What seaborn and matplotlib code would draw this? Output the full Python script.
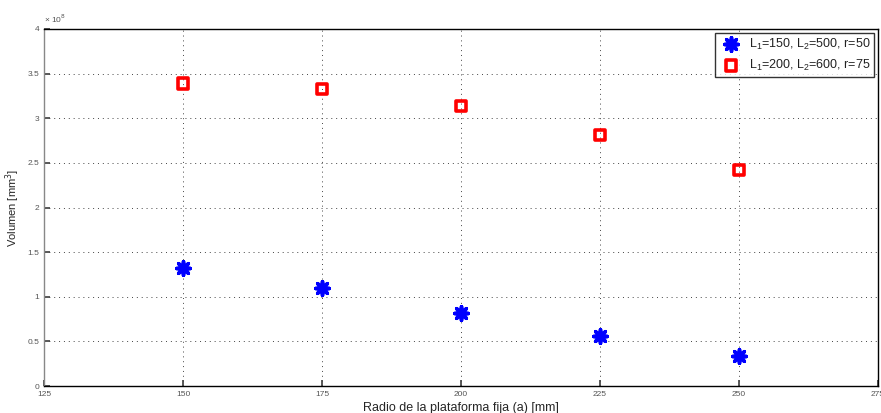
import matplotlib
matplotlib.use("Agg")

import matplotlib.pyplot as plt
import pandas as pd
import seaborn as sns
from matplotlib.ticker import FuncFormatter

radio = [150, 175, 200, 225, 250]
vol_serie1 = [1.32e8, 1.10e8, 0.82e8, 0.56e8, 0.34e8]
vol_serie2 = [3.39e8, 3.33e8, 3.14e8, 2.81e8, 2.42e8]
etiquetas = ["$\\mathregular{L_1}$=150, $\\mathregular{L_2}$=500, r=50",
             "$\\mathregular{L_1}$=200, $\\mathregular{L_2}$=600, r=75"]
x_ticks = [125, 150, 175, 200, 225, 250, 275]
y_ticks = [0, 0.5e8, 1e8, 1.5e8, 2e8, 2.5e8, 3e8, 3.5e8, 4e8]

df = pd.DataFrame({
    "radio": radio * 2,
    "volumen": vol_serie1 + vol_serie2,
    "serie": [etiquetas[0]] * 5 + [etiquetas[1]] * 5,
})

sns.set_theme(style="white")
plt.rcParams["font.family"] = ["Liberation Sans", "DejaVu Sans"]

fig = plt.figure(figsize=(8.81, 4.13), dpi=100)
ax = fig.add_axes([0.05, 0.065, 0.9466, 0.865])

s1 = df[df["serie"] == etiquetas[0]]
s2 = df[df["serie"] == etiquetas[1]]
sns.scatterplot(data=s1, x="radio", y="volumen", ax=ax, marker=(8, 2, 0), s=95,
                color="#0000ff", linewidth=2.6, edgecolor="#0000ff", label=etiquetas[0])
sns.scatterplot(data=s2, x="radio", y="volumen", ax=ax, marker="s", s=55,
                facecolor="none", edgecolor="#ff0000", linewidth=2.6, label=etiquetas[1])

ax.set_xlim(125, 275)
ax.set_ylim(0, 4e8)
ax.set_xticks(x_ticks)
ax.set_yticks(y_ticks)
ax.yaxis.set_major_formatter(FuncFormatter(lambda v, p: f"{v / 1e8:g}"))
ax.text(0.0, 1.012, "× 10$^8$", transform=ax.transAxes, fontsize=6,
        color="#555555", ha="left", va="bottom")
ax.tick_params(axis="both", direction="in", length=4, labelsize=6, colors="#444444",
               labelcolor="#555555", left=True, bottom=True)
ax.grid(True, linestyle=(0, (1, 4)), color="#444444", linewidth=0.7)
for sp in ax.spines.values():
    sp.set_color("black")
    sp.set_linewidth(1.0)
ax.spines["left"].set_color("#888888")

ax.set_xlabel("Radio de la plataforma fija (a) [mm]", fontsize=9, labelpad=3)
ax.set_ylabel("Volumen [mm$^3$]", fontsize=8, labelpad=4)

leg = ax.legend(loc="upper right", fontsize=9, frameon=True, fancybox=False,
                edgecolor="black", handletextpad=0.4, borderpad=0.3,
                labelspacing=0.5, borderaxespad=0.3)
leg.get_frame().set_linewidth(1.0)
for t in leg.get_texts():
    t.set_color("#222222")

fig.savefig("out.png", dpi=100)
